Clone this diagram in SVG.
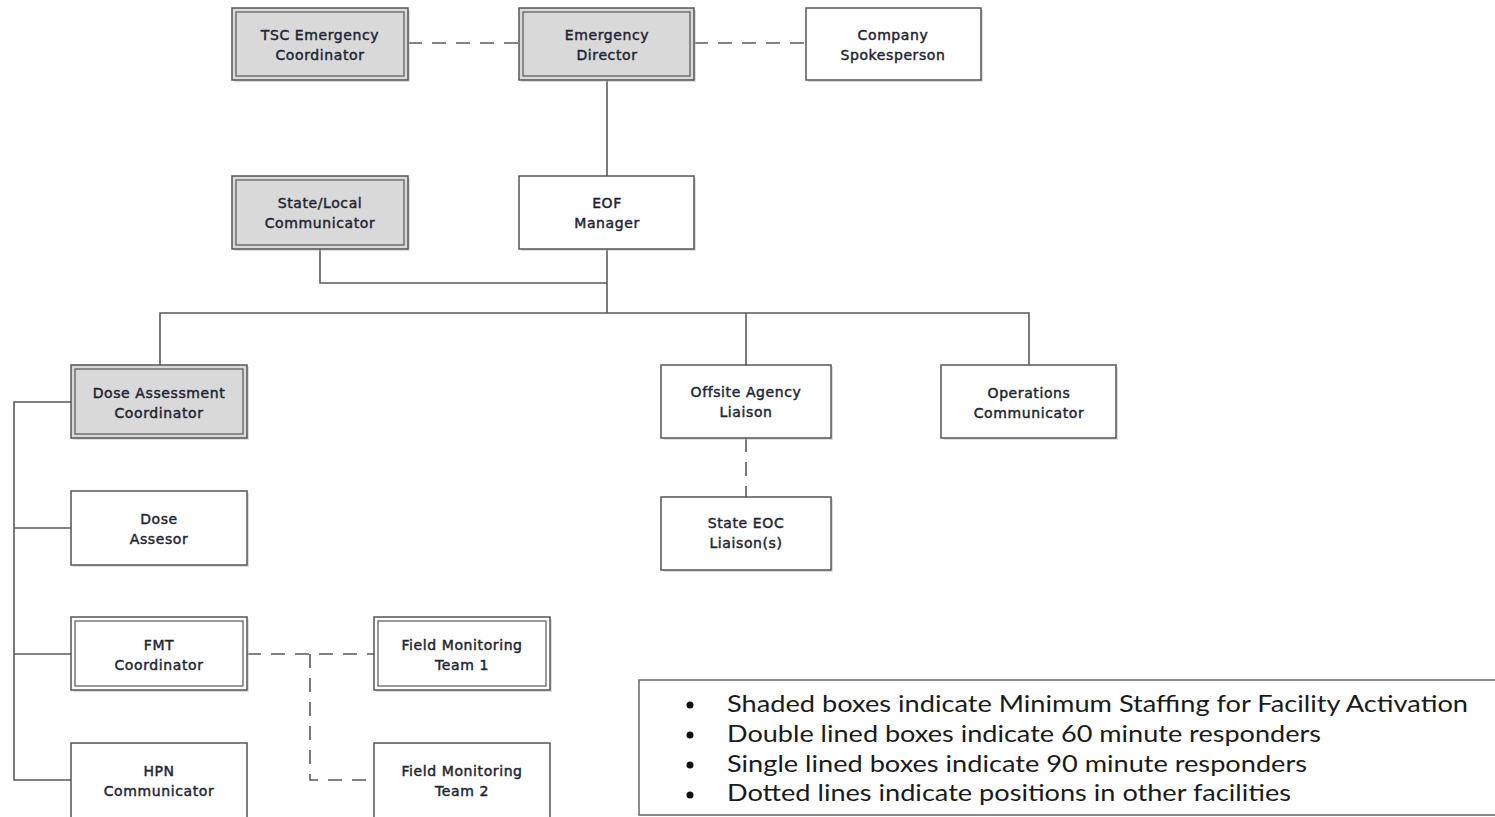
<svg xmlns="http://www.w3.org/2000/svg" width="1495" height="817" viewBox="0 0 1495 817">
  <style>
    .box { fill: #ffffff; stroke: #555555; stroke-width: 1.5; }
    .shaded { fill: #d9d9d9; }
    .inner { fill: none; stroke: #555555; stroke-width: 1.2; }
    .shadow { fill: #bdbdbd; opacity: 0.5; }
    .lbl { font-family: "DejaVu Sans", Verdana, sans-serif; font-size: 14px; letter-spacing: 0.6px; fill: #1e2433; text-anchor: middle; stroke: #1e2433; stroke-width: 0.45; }
    .conn { fill: none; stroke: #5a5a5a; stroke-width: 1.6; }
    .dash { stroke-dasharray: 14 10; }
    .legend { font-family: Lato, "Open Sans", sans-serif; font-size: 23px; fill: #1a1a1a; }
  </style>

  <!-- connectors -->
  <g id="connectors">
    <path class="conn dash" d="M408 43 H519"/>
    <path class="conn dash" d="M694 43 H806"/>
    <path class="conn" d="M607 80 V176"/>
    <path class="conn" d="M607 249 V313"/>
    <path class="conn" d="M320 249 V283 H607"/>
    <path class="conn" d="M160 365 V313 H1029 V365"/>
    <path class="conn" d="M746 313 V365"/>
    <path class="conn" d="M71 402 H14 V780 H71"/>
    <path class="conn" d="M14 528 H71"/>
    <path class="conn" d="M14 654 H71"/>
    <path class="conn dash" d="M746 438 V497"/>
    <path class="conn dash" d="M247 654 H374"/>
    <path class="conn dash" d="M310 654 V780 H374"/>
  </g>

  <!-- nodes -->
  <g id="tsc-emergency-coordinator">
    <rect class="shadow" x="234" y="10" width="176" height="72"/>
    <rect class="box shaded" x="232" y="8" width="176" height="72"/>
    <rect class="inner" x="236" y="12" width="168" height="64"/>
    <text class="lbl" x="320" y="40">TSC Emergency</text>
    <text class="lbl" x="320" y="60">Coordinator</text>
  </g>
  <g id="emergency-director">
    <rect class="shadow" x="521" y="10" width="175" height="72"/>
    <rect class="box shaded" x="519" y="8" width="175" height="72"/>
    <rect class="inner" x="523" y="12" width="167" height="64"/>
    <text class="lbl" x="607" y="40">Emergency</text>
    <text class="lbl" x="607" y="60">Director</text>
  </g>
  <g id="company-spokesperson">
    <rect class="shadow" x="808" y="10" width="175" height="72"/>
    <rect class="box" x="806" y="8" width="175" height="72"/>
    <text class="lbl" x="893" y="40">Company</text>
    <text class="lbl" x="893" y="60">Spokesperson</text>
  </g>
  <g id="state-local-communicator">
    <rect class="shadow" x="234" y="178" width="176" height="73"/>
    <rect class="box shaded" x="232" y="176" width="176" height="73"/>
    <rect class="inner" x="236" y="180" width="168" height="65"/>
    <text class="lbl" x="320" y="208">State/Local</text>
    <text class="lbl" x="320" y="228">Communicator</text>
  </g>
  <g id="eof-manager">
    <rect class="shadow" x="521" y="178" width="175" height="73"/>
    <rect class="box" x="519" y="176" width="175" height="73"/>
    <text class="lbl" x="607" y="208">EOF</text>
    <text class="lbl" x="607" y="228">Manager</text>
  </g>
  <g id="dose-assessment-coordinator">
    <rect class="shadow" x="73" y="367" width="176" height="73"/>
    <rect class="box shaded" x="71" y="365" width="176" height="73"/>
    <rect class="inner" x="75" y="369" width="168" height="65"/>
    <text class="lbl" x="159" y="398">Dose Assessment</text>
    <text class="lbl" x="159" y="418">Coordinator</text>
  </g>
  <g id="offsite-agency-liaison">
    <rect class="shadow" x="663" y="367" width="170" height="73"/>
    <rect class="box" x="661" y="365" width="170" height="73"/>
    <text class="lbl" x="746" y="397">Offsite Agency</text>
    <text class="lbl" x="746" y="417">Liaison</text>
  </g>
  <g id="operations-communicator">
    <rect class="shadow" x="943" y="367" width="175" height="73"/>
    <rect class="box" x="941" y="365" width="175" height="73"/>
    <text class="lbl" x="1029" y="398">Operations</text>
    <text class="lbl" x="1029" y="418">Communicator</text>
  </g>
  <g id="state-eoc-liaisons">
    <rect class="shadow" x="663" y="499" width="170" height="73"/>
    <rect class="box" x="661" y="497" width="170" height="73"/>
    <text class="lbl" x="746" y="528">State EOC</text>
    <text class="lbl" x="746" y="548">Liaison(s)</text>
  </g>
  <g id="dose-assesor">
    <rect class="shadow" x="73" y="493" width="176" height="74"/>
    <rect class="box" x="71" y="491" width="176" height="74"/>
    <text class="lbl" x="159" y="524">Dose</text>
    <text class="lbl" x="159" y="544">Assesor</text>
  </g>
  <g id="fmt-coordinator">
    <rect class="shadow" x="73" y="619" width="176" height="73"/>
    <rect class="box" x="71" y="617" width="176" height="73"/>
    <rect class="inner" x="75" y="621" width="168" height="65"/>
    <text class="lbl" x="159" y="650">FMT</text>
    <text class="lbl" x="159" y="670">Coordinator</text>
  </g>
  <g id="field-monitoring-team-1">
    <rect class="shadow" x="376" y="619" width="176" height="73"/>
    <rect class="box" x="374" y="617" width="176" height="73"/>
    <rect class="inner" x="378" y="621" width="168" height="65"/>
    <text class="lbl" x="462" y="650">Field Monitoring</text>
    <text class="lbl" x="462" y="670">Team 1</text>
  </g>
  <g id="hpn-communicator">
    <rect class="box" x="71" y="743" width="176" height="80"/>
    <text class="lbl" x="159" y="776">HPN</text>
    <text class="lbl" x="159" y="796">Communicator</text>
  </g>
  <g id="field-monitoring-team-2">
    <rect class="box" x="374" y="743" width="176" height="80"/>
    <text class="lbl" x="462" y="776">Field Monitoring</text>
    <text class="lbl" x="462" y="796">Team 2</text>
  </g>

  <!-- key -->
  <g id="legend">
    <rect x="639" y="680" width="862" height="135" fill="#ffffff" stroke="#666666" stroke-width="1.5"/>
    <circle cx="690" cy="705" r="3.5" fill="#111111"/>
    <circle cx="690" cy="735" r="3.5" fill="#111111"/>
    <circle cx="690" cy="765" r="3.5" fill="#111111"/>
    <circle cx="690" cy="795" r="3.5" fill="#111111"/>
    <text class="legend" x="727" y="712" textLength="741" lengthAdjust="spacingAndGlyphs">Shaded boxes indicate Minimum Staffing for Facility Activation</text>
    <text class="legend" x="727" y="742" textLength="594" lengthAdjust="spacingAndGlyphs">Double lined boxes indicate 60 minute responders</text>
    <text class="legend" x="727" y="772" textLength="580" lengthAdjust="spacingAndGlyphs">Single lined boxes indicate 90 minute responders</text>
    <text class="legend" x="727" y="801" textLength="564" lengthAdjust="spacingAndGlyphs">Dotted lines indicate positions in other facilities</text>
  </g>
</svg>
